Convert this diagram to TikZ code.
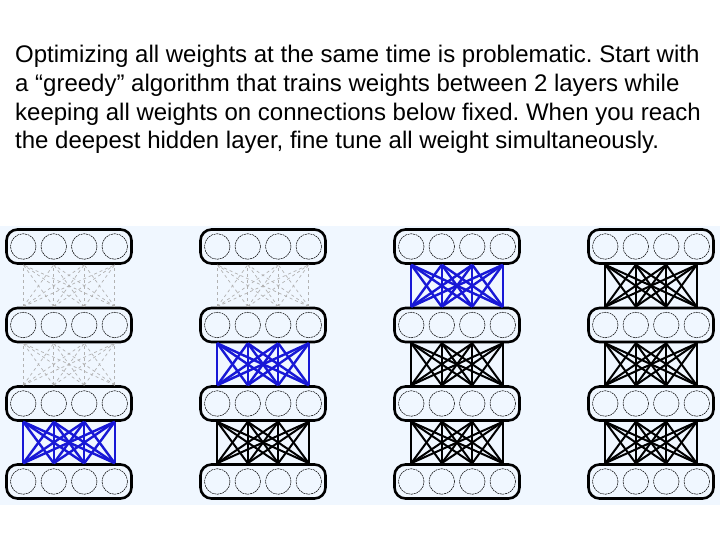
\documentclass[tikz,border=0pt]{standalone}
\usepackage{fontspec}
\setmainfont{Liberation Sans}
\usetikzlibrary{positioning}

\definecolor{paleblue}{RGB}{240,247,255}
\definecolor{trainblue}{RGB}{24,24,214}

\tikzset{
    layer/.style={draw, line width=2.6pt, rounded corners=11pt, minimum width=125pt, minimum height=34pt, inner sep=0pt},
    unit/.style={draw, circle, line width=0.5pt, dash pattern=on 2pt off 0.7pt, minimum size=25.5pt, inner sep=0pt},
    fixed/.style={draw=black, line width=2pt},
    training/.style={draw=trainblue, line width=2.4pt},
    untrained/.style={draw=gray!60, dashed, line width=0.7pt}
}

\begin{document}
\frenchspacing
\begin{tikzpicture}[x=1pt, y=-1pt]
    \useasboundingbox (0,0) rectangle (720,540);
    \fill [paleblue] (0,226) rectangle (720,505);

    % Caption
    \node [anchor=north west, align=left, inner sep=0pt, font=\fontsize{24}{28.8}\selectfont] (caption) at (15,45)
        {Optimizing all weights at the same time is problematic. Start with\\
         a “greedy” algorithm that trains weights between 2 layers while\\
         keeping all weights on connections below fixed. When you reach\\
         the deepest hidden layer, fine tune all weight simultaneously.};

    % Layers {L<column>-<layer>} with units {n<column>-<layer>-<unit>}
    \foreach \c/\cx in {1/69, 2/263, 3/457, 4/651} {
        \foreach \l/\ly in {1/481.5, 2/403.5, 3/325, 4/246.5} {
            \node [layer] (L\c-\l) at (\cx,\ly) {};
            \foreach \k/\dx in {1/-45.75, 2/-15.25, 3/15.25, 4/45.75}
                \node [unit] (n\c-\l-\k) at (\cx+\dx,\ly) {};
        }
    }

    % Weights between layers
    \foreach \c/\sa/\sb/\sc in {1/training/untrained/untrained, 2/fixed/training/untrained,
                                3/fixed/fixed/training, 4/fixed/fixed/fixed} {
        \foreach \lo/\hi/\s in {1/2/\sa, 2/3/\sb, 3/4/\sc}
            \foreach \i in {1,...,4}
                \foreach \j in {1,...,4}
                    \draw [\s] (n\c-\lo-\i |- L\c-\lo.north) -- (n\c-\hi-\j |- L\c-\hi.south);
    }
\end{tikzpicture}
\end{document}
